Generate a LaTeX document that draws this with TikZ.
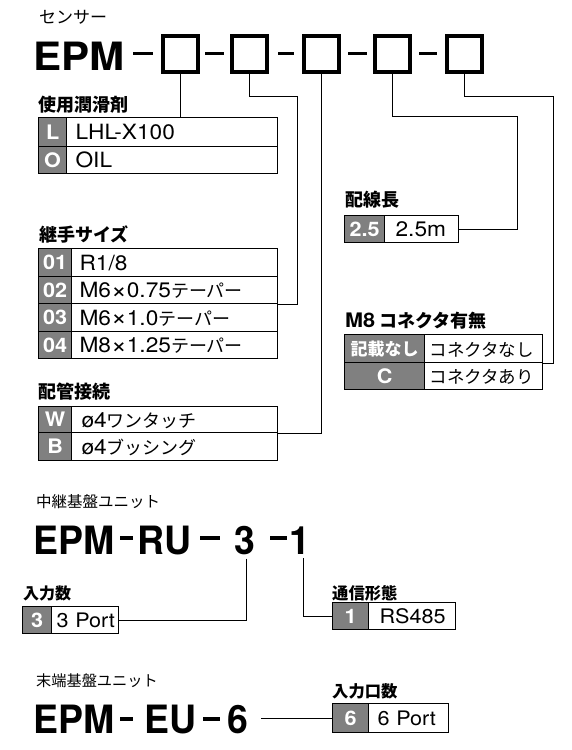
\documentclass[tikz,border=0pt]{standalone}
\usepackage{fontspec}
\setmainfont{TeX Gyre Heros}[FakeStretch=1.08]
\newfontfamily\jp{Noto Sans CJK JP}
\newfontfamily\bigb{TeX Gyre Heros}[FakeStretch=0.96]
\newcommand\fsz[1]{\fontsize{#1}{#1}\selectfont}
\newcommand\jt[1]{{\jp\fsz{18}#1}}
\newcommand\tms{\raisebox{-0.8pt}{\fsz{25}×}}
\definecolor{labg}{RGB}{128,128,128}
\tikzset{
  lab/.style={draw, line width=1.2pt, fill=labg, text=white, font=\fsz{20}\bfseries,
    inner sep=0pt, anchor=north west, text height=14.5pt, text depth=0pt},
  val/.style={draw, line width=1.2pt, fill=white, font=\fsz{21}, inner ysep=0pt,
    anchor=north west, align=left, text height=15pt, text depth=0pt},
  ttl/.style={font=\jp\bfseries\fsz{18}, inner sep=0pt, anchor=west},
  tt0/.style={font=\jp\fsz{17}, inner sep=0pt, anchor=west},
  box/.style={draw, line width=4pt, minimum width=35pt, minimum height=36pt, inner sep=0pt},
  dsh/.style={line width=3.3pt},
  con/.style={line width=1pt},
  big/.style={font=\bfseries\fsz{39}, inner sep=0pt, anchor=base west},
  bigB/.style={font=\bigb\bfseries\fsz{39}, inner sep=0pt, anchor=base west},
}
\begin{document}
\begin{tikzpicture}[x=1pt,y=-1pt]
\useasboundingbox (0,0) rectangle (572,750);
\fill[white] (0,0) rectangle (572,750);

% ---------- sensor ----------
\node[tt0] (tsen) at (39,17.5) {センサー};
\node[big] (epm) at (33,70) {EPM};
\draw[dsh] (133,53.5) -- (153,53.5);
\draw[dsh] (205,53.5) -- (224,53.5);
\draw[dsh] (278,53.5) -- (294,53.5);
\draw[dsh] (348,53.5) -- (367,53.5);
\draw[dsh] (419,53.5) -- (437,53.5);
\node[box] (b1) at (180.5,54) {};
\node[box] (b2) at (249.5,54) {};
\node[box] (b3) at (321.5,54) {};
\node[box] (b4) at (392,54) {};
\node[box] (b5) at (464,54) {};

% table A
\node[ttl] (tA) at (38,104.5) {使用潤滑剤};
\node[lab, minimum width=28pt, minimum height=29pt] (aL) at (38,117) {L};
\node[val, inner xsep=9pt, text width=193pt, minimum height=29pt] (aLv) at (66,117) {LHL-X100};
\node[lab, minimum width=28pt, minimum height=27pt] (aO) at (38,146) {O};
\node[val, inner xsep=9pt, text width=193pt, minimum height=27pt] (aOv) at (66,146) {OIL};

% table B
\node[ttl] (tB) at (39,234.5) {継手サイズ};
\node[lab, minimum width=33pt, minimum height=28pt] (bR1) at (38,248) {01};
\node[val, inner xsep=8pt, text width=190pt, minimum height=28pt] (bR1v) at (71,248) {R1/8};
\node[lab, minimum width=33pt, minimum height=27pt] (bR2) at (38,276) {02};
\node[val, inner xsep=8pt, text width=190pt, minimum height=27pt] (bR2v) at (71,276) {M6\tms0.75\jt{テーパー}};
\node[lab, minimum width=33pt, minimum height=28pt] (bR3) at (38,303) {03};
\node[val, inner xsep=8pt, text width=190pt, minimum height=28pt] (bR3v) at (71,303) {M6\tms1.0\jt{テーパー}};
\node[lab, minimum width=33pt, minimum height=27pt] (bR4) at (38,331) {04};
\node[val, inner xsep=8pt, text width=190pt, minimum height=27pt] (bR4v) at (71,331) {M8\tms1.25\jt{テーパー}};

% table C
\node[ttl] (tC) at (38,392) {配管接続};
\node[lab, minimum width=33pt, minimum height=26pt] (cW) at (38,406) {W};
\node[val, inner xsep=10pt, text width=186pt, minimum height=26pt] (cWv) at (71,406) {ø4\jt{ワンタッチ}};
\node[lab, minimum width=33pt, minimum height=28pt] (cB) at (38,432) {B};
\node[val, inner xsep=10pt, text width=186pt, minimum height=28pt] (cBv) at (71,432) {ø4\jt{ブッシング}};

% table D
\node[ttl] (tD) at (345,200) {配線長};
\node[lab, minimum width=40pt, minimum height=27pt] (dl) at (344,215) {2.5};
\node[val, inner xsep=11pt, text width=52pt, minimum height=27pt] (dv) at (384,215) {2.5m};

% table E
\node[ttl] (tE) at (345,320.5) {{\rmfamily\bfseries\fsz{20}M8} コネクタ有無};
\node[lab, minimum width=80pt, minimum height=28pt] (eN) at (344,334) {\jp\bfseries\fsz{17}記載なし};
\node[val, inner xsep=5pt, text width=108pt, minimum height=28pt, font=\jp\fsz{17.5}] (eNv) at (424,334) {コネクタなし};
\node[lab, minimum width=80pt, minimum height=27pt] (eC) at (344,362) {C};
\node[val, inner xsep=5pt, text width=108pt, minimum height=27pt, font=\jp\fsz{17.5}] (eCv) at (424,362) {コネクタあり};

% connectors sensor
\coordinate (k2) at (297,96);
\coordinate (k4) at (517,116);
\coordinate (k5) at (553,96);
\draw[con] (b1.south) -- (b1.south |- aLv.north);
\draw[con] (b2.south) |- (k2) |- (bR2v.south east);
\draw[con] (b3.south) |- (cWv.south east);
\draw[con] (b4.south) |- (k4) |- (dv.east);
\draw[con] (b5.south) |- (k5) |- (eNv.south east);

% ---------- relay unit ----------
\node[tt0, font=\jp\fsz{15.5}] (tRU) at (36,501.5) {中継基盤ユニット};
\node[bigB] (epm2) at (33,554) {EPM};
\draw[dsh] (120,538) -- (133,538);
\node[bigB] (ru) at (137,554) {RU};
\draw[dsh] (200,538) -- (220,538);
\node[bigB, anchor=base] (n3) at (245,554) {3};
\draw[dsh] (270,538) -- (287,538);
\node[bigB, anchor=base] (n1) at (300.4,554) {1};

\node[ttl, font=\jp\bfseries\fsz{16}] (tF) at (23,593) {入力数};
\node[lab, minimum width=29pt, minimum height=27pt] (fl) at (22,606) {3};
\node[val, inner xsep=5pt, text width=57pt, minimum height=27pt, font=\fsz{20}] (fv) at (51,606) {3~Port};

\node[ttl, font=\jp\bfseries\fsz{16.3}] (tG) at (332,593) {通信形態};
\node[lab, minimum width=36pt, minimum height=27pt] (gl) at (332,602) {1};
\node[val, inner xsep=11pt, text width=65pt, minimum height=27pt, font=\fsz{20}] (gv) at (368,602) {RS485};

\draw[con] ([xshift=1pt,yshift=-4pt]n3.south) |- (fv.east);
\draw[con] ([xshift=3.5pt,yshift=-4pt]n1.south) |- (gl.west);

% ---------- end unit ----------
\node[tt0, font=\jp\fsz{15.2}] (tEU) at (36,680.5) {末端基盤ユニット};
\node[bigB] (epm3) at (33,733) {EPM};
\draw[dsh] (120,719) -- (133,719);
\node[bigB] (eu) at (144,733) {EU};
\draw[dsh] (203,719) -- (220,719);
\node[bigB, anchor=base] (n6) at (237.5,733) {6};

\node[ttl, font=\jp\bfseries\fsz{16.3}] (tH) at (332,691) {入力口数};
\node[lab, minimum width=36pt, minimum height=29pt] (hl) at (332,703) {6};
\node[val, inner xsep=9pt, text width=62pt, minimum height=29pt, font=\fsz{20}] (hv) at (368,703) {6~Port};

\draw[con] ([xshift=13pt]n6.east |- hl.west) -- (hl.west);
\end{tikzpicture}
\end{document}
